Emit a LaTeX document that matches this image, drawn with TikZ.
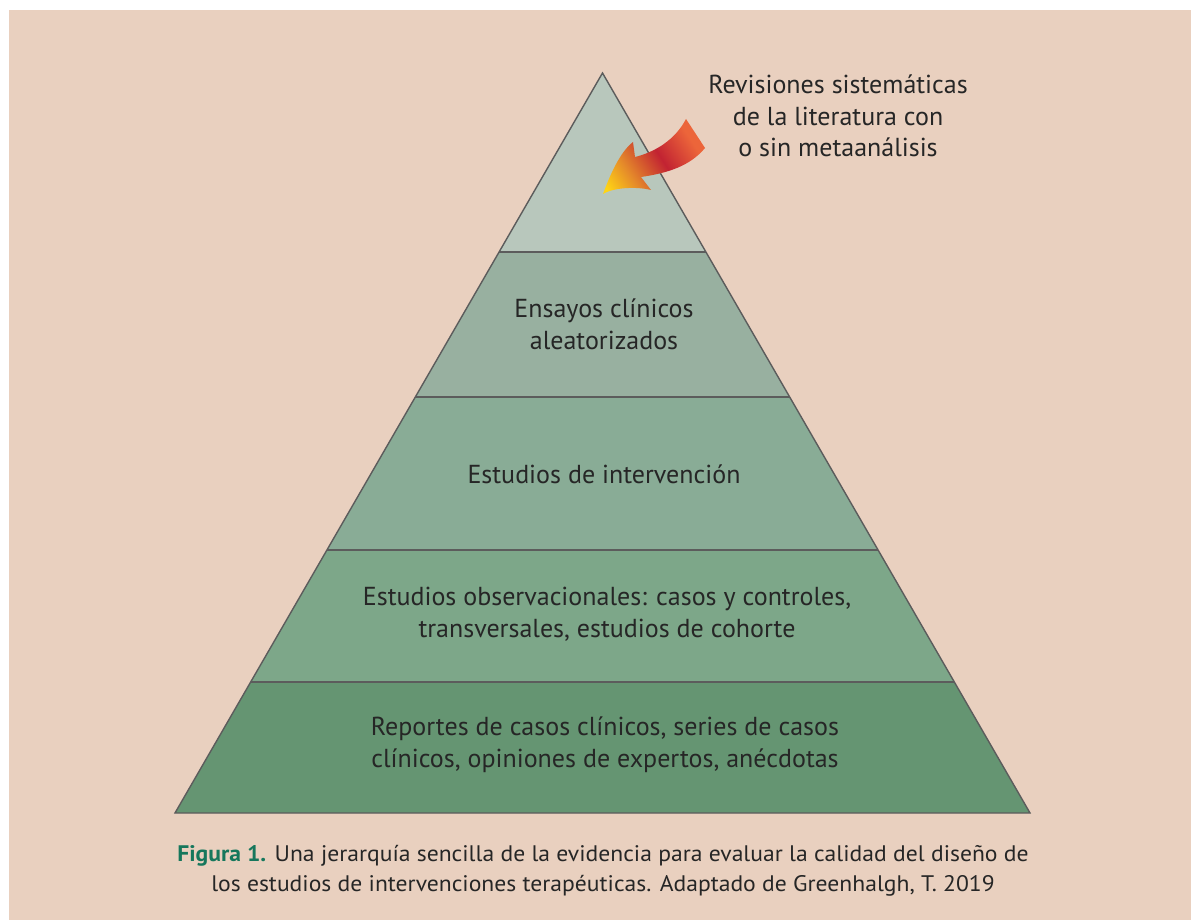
\documentclass[tikz,border=0pt]{standalone}
\usepackage{fontspec}
\setmainfont{PT Sans}
\newfontfamily\capfont[FakeStretch=1.05]{PT Sans}
\usetikzlibrary{calc}
\definecolor{fondo}{HTML}{E9D0BF}
\definecolor{texto}{HTML}{262626}
\definecolor{linea}{HTML}{5C5C5C}
\definecolor{nivelA}{HTML}{B8C7BC}
\definecolor{nivelB}{HTML}{98B0A0}
\definecolor{nivelC}{HTML}{89AC96}
\definecolor{nivelD}{HTML}{7DA789}
\definecolor{nivelE}{HTML}{659572}
\definecolor{verdefig}{HTML}{16775C}
\definecolor{amarillo}{HTML}{FFD514}
\definecolor{naranja}{HTML}{E58A2A}
\definecolor{carmin}{HTML}{C22332}
\definecolor{rojizo}{HTML}{EC653A}
\pgfdeclarehorizontalshading{flecha}{100bp}{color(0bp)=(amarillo); color(27bp)=(amarillo); color(38bp)=(naranja); color(52bp)=(carmin); color(66bp)=(rojizo); color(100bp)=(rojizo)}
\tikzset{lbl/.style={font=\fontsize{26}{31.5}\selectfont, text=texto, align=center, inner sep=0pt}}
\tikzset{leyenda/.style={font=\capfont\fontsize{22.5}{30}\selectfont, text=texto, align=center, inner sep=0pt}}
\tikzset{sep/.style={draw=linea, line width=2pt}}
\tikzset{borde/.style={draw=linea, line width=1.4pt, line join=miter}}

\begin{document}
\begin{tikzpicture}[x=1pt,y=-1pt]
  \fill[white] (0,0) rectangle (1191,920);
  \fill[fondo] (9,10) rectangle (1191,920);
  \useasboundingbox (0,0) rectangle (1191,920);
  \coordinate (apex) at (602.5,73);
  \coordinate (bl) at (175,813);
  \coordinate (br) at (1030,813);
  % niveles de la piramide
  \begin{scope}
    \clip (apex) -- (bl) -- (br) -- cycle;
    \fill[nivelA] (0,60) rectangle (1191,252);
    \fill[nivelB] (0,252) rectangle (1191,397);
    \fill[nivelC] (0,397) rectangle (1191,550);
    \fill[nivelD] (0,550) rectangle (1191,682);
    \fill[nivelE] (0,682) rectangle (1191,820);
    \foreach \y in {252,397,550,682}
      \draw[sep] (0,\y) -- (1191,\y);
  \end{scope}
  \draw[borde] (apex) -- (bl) -- (br) -- cycle;
  % flecha
  \begin{scope}
    \clip (686,119) -- (705,148)
      .. controls (690,166) and (668,173) .. (641,177)
      -- (651,190)
      .. controls (635,186) and (612,188) .. (603,194)
      .. controls (610,175) and (620,152) .. (633,142)
      -- (635,157)
      .. controls (655,152) and (675,140) .. (686,119) -- cycle;
    \shade[shading=flecha, shading angle=33] (591,93.5) rectangle (717,219.5);
  \end{scope}
  \node[lbl] (revisiones) at (838,116)
    {Revisiones sistemáticas\\de la literatura con\\o sin metaanálisis};
  \node[lbl] (ensayos) at (604,324.5) {Ensayos clínicos\\aleatorizados};
  \node[lbl] (intervencion) at (604,474) {Estudios de intervención};
  \node[lbl] (observacionales) at (607,614)
    {Estudios observacionales: casos y controles,\\transversales, estudios de cohorte};
  \node[lbl] (reportes) at (605,744.5)
    {Reportes de casos clínicos, series de casos\\clínicos, opiniones de expertos, anécdotas};
  \node[leyenda] (figura) at (603,871)
    {\textcolor{verdefig}{\bfseries Figura 1.} Una jerarquía sencilla de la evidencia para evaluar la calidad del diseño de\\los estudios de intervenciones terapéuticas. Adaptado de Greenhalgh, T. 2019};
\end{tikzpicture}
\end{document}
